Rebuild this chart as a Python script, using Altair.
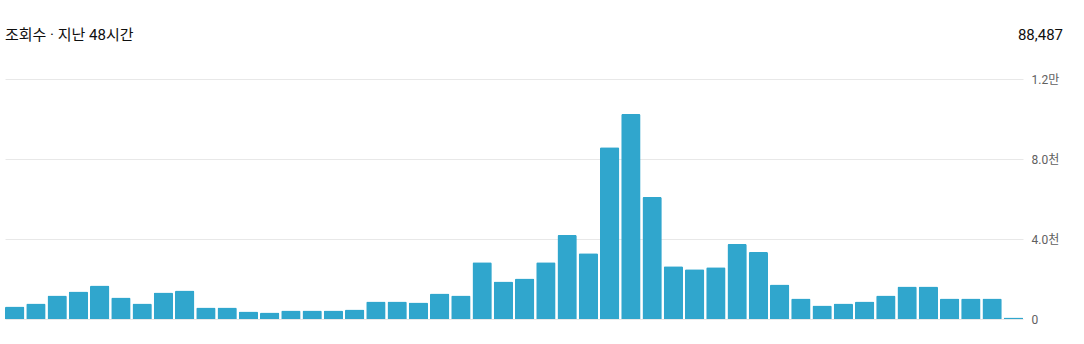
import altair as alt
import pandas as pd

hours = list(range(1, 49))
views = [620, 770, 1175, 1380, 1680, 1075, 770, 1330, 1430, 570,
         570, 370, 320, 420, 420, 420, 470, 870, 870, 820,
         1275, 1175, 2840, 1880, 2030, 2840, 4200, 3290, 8590, 10250,
         6100, 2640, 2490, 2590, 3750, 3345, 1730, 1025, 670, 770,
         870, 1175, 1630, 1630, 1025, 1025, 1025, 70]
y_ticks = [0, 4000, 8000, 12000]
title_text = "조회수 · 지난 48시간"
total_text = "88,487"

df = pd.DataFrame({"hour": hours, "views": views})

FONT = "Roboto, 'Noto Sans CJK KR', sans-serif"

bars = alt.Chart(df).mark_bar(color="#30a6cd", cornerRadiusTopLeft=1.5, cornerRadiusTopRight=1.5).encode(
    x=alt.X("hour:O", title=None,
            scale=alt.Scale(paddingInner=0.09, paddingOuter=0.0),
            axis=None),
    y=alt.Y("views:Q", title=None,
            scale=alt.Scale(domain=[0, 12000], nice=False),
            axis=alt.Axis(orient="right", values=y_ticks, domain=False, ticks=False,
                          grid=True, gridColor="#e8e8e8", gridWidth=1,
                          labelPadding=8, labelFontSize=12, labelColor="#606060",
                          labelFont=FONT,
                          labelExpr="datum.value == 0 ? '0' : (datum.value < 10000 ? format(datum.value/1000, '.1f') + '천' : format(datum.value/10000, '.1f') + '만')")),
)

title = alt.Chart(pd.DataFrame({"t": [title_text]})).mark_text(
    align="left", baseline="middle", fontSize=15, font=FONT, color="#0f0f0f"
).encode(x=alt.value(0), y=alt.value(-44), text="t:N")

total = alt.Chart(pd.DataFrame({"t": [total_text]})).mark_text(
    align="right", baseline="middle", fontSize=15, font=FONT, color="#0f0f0f"
).encode(x=alt.value(1058), y=alt.value(-44), text="t:N")

chart = alt.layer(bars, title, total).properties(
    width=1018, height=240,
    autosize=alt.AutoSizeParams(type="none"),
    padding={"left": 5, "top": 79, "right": 61, "bottom": 25},
).configure_view(stroke=None)

chart.save("out.html", embed_options={"renderer": "svg", "actions": False})
